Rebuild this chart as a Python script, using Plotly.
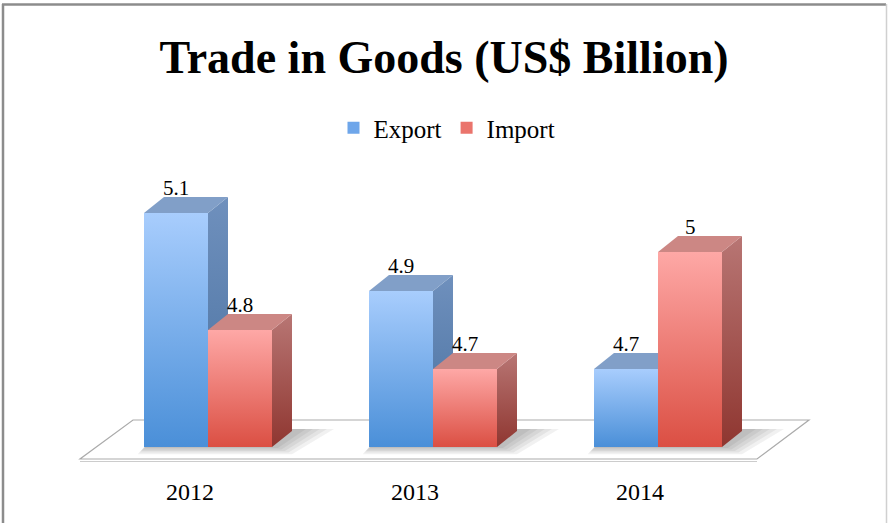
import plotly.graph_objects as go

# ---------------- data ----------------
years = ["2012", "2013", "2014"]
series_names = ["Export", "Import"]
export_vals = [5.1, 4.9, 4.7]
import_vals = [4.8, 4.7, 5.0]

# ---------------- geometry (pixel based helpers) ----------------
BASE = 4.5            # value at the floor of the bars
UX = 225.0            # px per category unit
UY = 390.0            # px per value unit
BASE_PX = 447.0       # pixel row of the bars' front bottom
CAT0_PX = 208.0       # pixel column of first category centre
L, R, T, B = 40, 40, 150, 48
WIDTH, HEIGHT = 888, 523

def vx(px):
    return (px - CAT0_PX) / UX

def vy(py):
    return BASE + (BASE_PX - py) / UY

W = 64 / UX           # bar width
DX = 20 / UX          # 3-D depth offset
DY = 16 / UY

X_RANGE = [vx(L), vx(WIDTH - R)]
Y_RANGE = [vy(HEIGHT - B), vy(T)]

colors = {
    "Export": dict(front=["#4a8fd8", "#a8cdfd"], side=["#48709f", "#6f90bd"],
                   top="#819fc8", legend="#6ea6ea"),
    "Import": dict(front=["#db4f43", "#fea8a6"], side=["#8f3630", "#b87674"],
                   top="#cc8784", legend="#ea746c"),
}

fig = go.Figure()

# ---------------- bars (front faces) ----------------
for s, (name, vals) in enumerate(zip(series_names, [export_vals, import_vals])):
    fig.add_trace(go.Bar(
        x=list(range(len(years))), y=[v - BASE for v in vals], base=BASE,
        width=W, offset=-W + s * W, name=name,
        marker=dict(color=colors[name]["legend"], line=dict(width=0)),
        hoverinfo="skip",
    ))

# ---------------- 3-D faces ----------------
for i in range(len(years)):
    for s, (name, vals) in enumerate(zip(series_names, [export_vals, import_vals])):
        v = vals[i]
        c = colors[name]
        x0 = i - W + s * W
        x1 = x0 + W
        fig.add_trace(go.Scatter(
            x=[x0, x1, x1, x0, x0], y=[BASE, BASE, v, v, BASE],
            fill="toself", mode="lines", line=dict(width=0),
            fillgradient=dict(type="vertical",
                              colorscale=[[0, c["front"][0]], [1, c["front"][1]]]),
            showlegend=False, hoverinfo="skip"))
        fig.add_trace(go.Scatter(
            x=[x1, x1 + DX, x1 + DX, x1, x1], y=[BASE, BASE + DY, v + DY, v, BASE],
            fill="toself", mode="lines", line=dict(width=0),
            fillgradient=dict(type="vertical",
                              colorscale=[[0, c["side"][0]], [1, c["side"][1]]]),
            showlegend=False, hoverinfo="skip"))
        fig.add_trace(go.Scatter(
            x=[x0, x1, x1 + DX, x0 + DX, x0], y=[v, v, v + DY, v + DY, v],
            fill="toself", mode="lines", line=dict(width=0),
            fillcolor=c["top"], showlegend=False, hoverinfo="skip"))

# ---------------- floor & shadows (shapes below traces) ----------------
def path(points):
    return "M " + " L ".join(f"{x},{y}" for x, y in points) + " Z"

floor_pts = [(vx(80), vy(459)), (vx(757), vy(459)), (vx(809), vy(420)), (vx(133), vy(420))]
shapes = [
    dict(type="path", path=path(floor_pts), xref="x", yref="y", layer="below",
         fillcolor="white", line=dict(color="#ababab", width=1.2)),
    dict(type="line", xref="x", yref="y", layer="below",
         x0=vx(80), y0=vy(461.5), x1=vx(757), y1=vy(461.5),
         line=dict(color="#cccccc", width=1.1)),
]
for i in range(len(years)):
    gx0 = i - W
    gx1 = i + W
    for k in range(5):
        e = 2 + 3.5 * k
        pts = [(gx0 - e * 0.4 / UX, BASE - e * 0.45 / UY),
               (gx1 + (4 + e) / UX, BASE - e * 0.45 / UY),
               (gx1 + DX + (10 + 2 * e) / UX, BASE + DY + 2 / UY),
               (gx0 + DX, BASE + DY + 2 / UY)]
        shapes.append(dict(type="path", path=path(pts), xref="x", yref="y", layer="below",
                           fillcolor="rgba(0,0,0,0.055)", line=dict(width=0)))

def paper_x(px):
    return (px - L) / (WIDTH - L - R)

def paper_y(py):
    return (HEIGHT - B - py) / (HEIGHT - T - B)

shapes += [
    dict(type="line", xref="paper", yref="paper", x0=paper_x(3), x1=paper_x(3),
         y0=paper_y(4), y1=paper_y(530), line=dict(color="#8c8c8c", width=2.5)),
    dict(type="line", xref="paper", yref="paper", x0=paper_x(2), x1=paper_x(886),
         y0=paper_y(4.5), y1=paper_y(4.5), line=dict(color="#8c8c8c", width=2.5)),
    dict(type="line", xref="paper", yref="paper", x0=paper_x(886.5), x1=paper_x(886.5),
         y0=paper_y(4), y1=paper_y(530), line=dict(color="#d0d0d0", width=1.5)),
]

# ---------------- annotations ----------------
annotations = []
for i in range(len(years)):
    for s, vals in enumerate([export_vals, import_vals]):
        v = vals[i]
        xc = i - W / 2 + s * W
        annotations.append(dict(
            x=xc, y=v + DY, xref="x", yref="y", text=f"{v:g}", showarrow=False,
            xanchor="center", yanchor="bottom", yshift=-5,
            font=dict(family="Liberation Serif", size=21, color="black")))
    annotations.append(dict(
        x=i, y=paper_y(492), xref="x", yref="paper", text=years[i], showarrow=False,
        xanchor="center", yanchor="middle", xshift=-18,
        font=dict(family="Liberation Serif", size=24, color="black")))

fig.update_layout(
    width=WIDTH, height=HEIGHT, autosize=False,
    margin=dict(l=L, r=R, t=T, b=B),
    paper_bgcolor="white", plot_bgcolor="white",
    barmode="overlay",
    title=dict(text="<b>Trade in Goods (US$ Billion)</b>", x=0.5, xanchor="center",
               xref="container", y=1 - 57 / HEIGHT, yanchor="middle", yref="container",
               font=dict(family="Liberation Serif", size=46, color="black")),
    legend=dict(orientation="h", x=paper_x(447), xanchor="center",
                y=paper_y(128), yanchor="middle", itemwidth=30,
                font=dict(family="Liberation Serif", size=25, color="black"),
                bgcolor="rgba(0,0,0,0)", itemclick=False, itemdoubleclick=False),
    xaxis=dict(range=X_RANGE, visible=False, fixedrange=True),
    yaxis=dict(range=Y_RANGE, visible=False, fixedrange=True),
    shapes=shapes,
    annotations=annotations,
    showlegend=True,
)

fig.write_html("out.html", config={"displayModeBar": False},
               post_script="document.body.style.margin='0';document.body.style.overflow='hidden';")
